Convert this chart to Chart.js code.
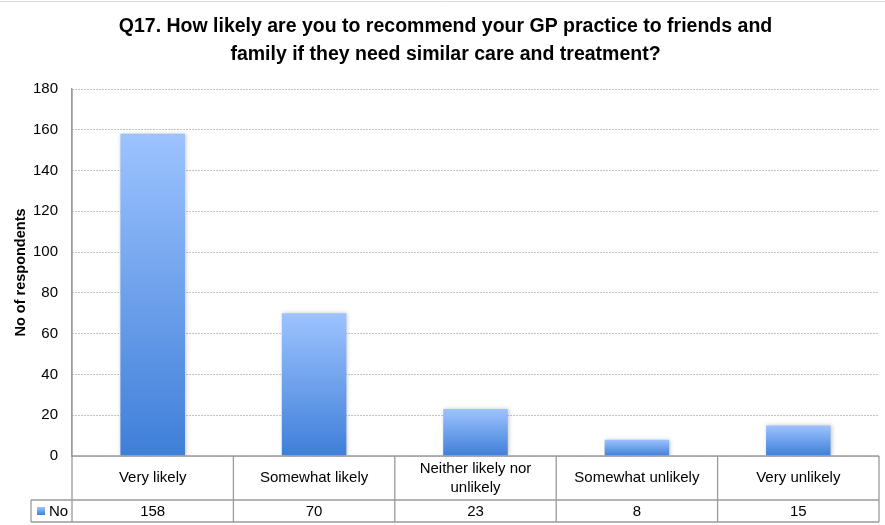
<!DOCTYPE html>
<html>
<head>
<meta charset="utf-8">
<script src="https://cdn.jsdelivr.net/npm/chart.js@4/dist/chart.umd.min.js"></script>
<style>
    html, body { margin: 0; padding: 0; background: #fff; }
    #wrap { width: 885px; height: 525px; position: relative; }
</style>
</head>
<body>
<div id="wrap"><canvas id="q17Chart" width="885" height="525"></canvas></div>
<script>
// Q17 answers
const categories = ['Very likely', 'Somewhat likely', 'Neither likely nor unlikely', 'Somewhat unlikely', 'Very unlikely'];
const tableLabels = [['Very likely'], ['Somewhat likely'], ['Neither likely nor', 'unlikely'], ['Somewhat unlikely'], ['Very unlikely']];
const respondents = [158, 70, 23, 8, 15];
const seriesName = 'No';
const yTicks = [0, 20, 40, 60, 80, 100, 120, 140, 160, 180];

const FONT = '"Liberation Sans", Arial, sans-serif';
const LINE = '#9a9a9a';

// each bar gets its own light-to-dark gradient
function barGradient(context) {
    const chart = context.chart;
    const y = chart.scales.y;
    if (!y || context.dataIndex === undefined) return '#7aaaf0';
    const top = y.getPixelForValue(respondents[context.dataIndex]);
    const bottom = y.getPixelForValue(0);
    if (!isFinite(top) || !isFinite(bottom) || top === bottom) return '#7aaaf0';
    const g = chart.ctx.createLinearGradient(0, top, 0, bottom);
    g.addColorStop(0, '#9dc3ff');
    g.addColorStop(1, '#3f7fd8');
    return g;
}

// soft shadow around bars
const barShadow = {
    id: 'barShadow',
    beforeDatasetsDraw(chart) {
        const ctx = chart.ctx;
        ctx.save();
        ctx.shadowColor = 'rgba(0,0,0,0.22)';
        ctx.shadowBlur = 4;
        ctx.shadowOffsetX = 1;
        ctx.shadowOffsetY = 0;
    },
    afterDatasetsDraw(chart) {
        chart.ctx.restore();
    }
};

// data table under the plot
const dataTable = {
    id: 'dataTable',
    afterDraw(chart) {
        const ctx = chart.ctx;
        const x = chart.scales.x;
        const area = chart.chartArea;
        const top = area.bottom;
        const mid = top + 44;
        const bottom = mid + 22;
        const half = (x.getPixelForValue(1) - x.getPixelForValue(0)) / 2;
        const left = x.getPixelForValue(0) - half;
        const right = x.getPixelForValue(categories.length - 1) + half;
        const legendLeft = 31;

        ctx.save();
        // thin frame line along the top edge
        ctx.strokeStyle = '#d9d9d9';
        ctx.lineWidth = 1;
        ctx.beginPath();
        ctx.moveTo(0, 1.5);
        ctx.lineTo(885, 1.5);
        ctx.stroke();

        ctx.strokeStyle = LINE;
        ctx.lineWidth = 1.3;
        ctx.beginPath();
        ctx.moveTo(left, top); ctx.lineTo(right, top);
        ctx.moveTo(legendLeft, mid); ctx.lineTo(right, mid);
        ctx.moveTo(legendLeft, bottom); ctx.lineTo(right, bottom);
        ctx.moveTo(legendLeft, mid); ctx.lineTo(legendLeft, bottom);
        ctx.moveTo(left, area.top); ctx.lineTo(left, bottom);
        categories.forEach((c, i) => {
            const bx = x.getPixelForValue(i) + half;
            ctx.moveTo(bx, top); ctx.lineTo(bx, bottom);
        });
        ctx.stroke();

        ctx.fillStyle = '#000';
        ctx.font = '15px ' + FONT;
        ctx.textAlign = 'center';
        ctx.textBaseline = 'middle';
        categories.forEach((c, i) => {
            const cx = x.getPixelForValue(i);
            const lines = tableLabels[i];
            const lh = 19;
            const y0 = (top + mid) / 2 - (lines.length - 1) * lh / 2;
            lines.forEach((t, k) => ctx.fillText(t, cx, y0 + k * lh));
            ctx.fillText(String(respondents[i]), cx, (mid + bottom) / 2 + 1);
        });

        // legend key for the series
        const g = ctx.createLinearGradient(0, mid + 7, 0, mid + 15);
        g.addColorStop(0, '#9dc3ff');
        g.addColorStop(1, '#3f7fd8');
        ctx.fillStyle = g;
        ctx.fillRect(legendLeft + 6, mid + 7, 8, 8);
        ctx.fillStyle = '#000';
        ctx.textAlign = 'left';
        ctx.fillText(seriesName, legendLeft + 18, (mid + bottom) / 2 + 1);
        ctx.restore();
    }
};

const ctx = document.getElementById('q17Chart').getContext('2d');
const q17Chart = new Chart(ctx, {
    type: 'bar',
    data: {
        labels: categories,
        datasets: [{
            label: seriesName,
            data: respondents,
            backgroundColor: barGradient,
            borderWidth: 0,
            categoryPercentage: 1,
            barPercentage: 0.4
        }]
    },
    options: {
        responsive: false,
        animation: false,
        layout: {
            padding: { left: 12, right: 6, top: 0, bottom: 69 }
        },
        plugins: {
            legend: { display: false },
            tooltip: { enabled: false },
            title: {
                display: true,
                text: ['Q17. How likely are you to recommend your GP practice to friends and',
                       'family if they need similar care and treatment?'],
                color: '#000',
                font: { family: FONT, size: 19.5, weight: 'bold', lineHeight: 1.436 },
                padding: { top: 13, bottom: 20 }
            }
        },
        scales: {
            x: {
                display: false
            },
            y: {
                min: 0,
                max: 180,
                afterBuildTicks(scale) {
                    scale.ticks = yTicks.map(v => ({ value: v }));
                },
                afterFit(scale) {
                    scale.width = 60;
                },
                ticks: {
                    color: '#000',
                    padding: 14,
                    font: { family: FONT, size: 15 }
                },
                grid: {
                    color: '#b0b0b0',
                    lineWidth: 1,
                    drawTicks: false
                },
                border: {
                    display: true,
                    color: LINE,
                    width: 1.3,
                    dash: [1.5, 1.5]
                },
                title: {
                    display: true,
                    text: 'No of respondents',
                    color: '#000',
                    font: { family: FONT, size: 14.5, weight: 'bold' },
                    padding: { top: 0, bottom: 0 }
                }
            }
        }
    },
    plugins: [barShadow, dataTable]
});
</script>
</body>
</html>
